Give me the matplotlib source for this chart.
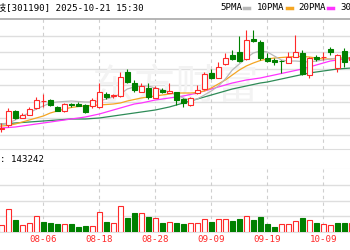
import matplotlib
matplotlib.use('Agg')
import matplotlib.pyplot as plt
import numpy as np

plt.rcParams['font.family'] = ['DejaVu Sans Mono', 'Noto Sans CJK SC']

# trading days (07-25 .. 10-15), only part of them is inside the crop
dates = ['07-25', '07-28', '07-29', '07-30', '07-31', '08-01', '08-04', '08-05',
         '08-06', '08-07', '08-08', '08-11', '08-12', '08-13', '08-14', '08-15',
         '08-18', '08-19', '08-20', '08-21', '08-22', '08-25', '08-26', '08-27',
         '08-28', '08-29', '09-01', '09-02', '09-03', '09-04', '09-05', '09-08',
         '09-09', '09-10', '09-11', '09-12', '09-15', '09-16', '09-17', '09-18',
         '09-19', '09-22', '09-23', '09-24', '09-25', '09-26', '09-29', '09-30',
         '10-09', '10-10', '10-13', '10-14', '10-15']

opens = [20.90, 20.80, 20.65, 21.00, 22.40, 21.73, 22.00, 22.67, 23.37, 23.47,
         22.83, 22.40, 23.07, 23.13, 23.00, 22.90, 22.83, 24.10, 23.87, 23.93,
         26.33, 25.23, 24.27, 24.73, 23.67, 24.47, 24.23, 24.27, 23.60, 23.00,
         24.23, 24.60, 26.17, 25.73, 27.10, 28.00, 28.27, 27.60, 29.60, 29.27,
         27.73, 27.50, 27.45, 27.17, 27.83, 28.17, 26.00, 27.85, 27.77, 28.57,
         26.67, 28.43, 27.50]
closes = [20.80, 20.60, 20.70, 22.40, 21.73, 22.00, 22.57, 23.50, 23.40, 23.00,
          22.43, 23.07, 22.97, 22.93, 22.27, 23.55, 24.27, 23.77, 23.97, 25.83,
          25.33, 24.50, 24.90, 23.83, 24.73, 24.27, 24.37, 23.50, 23.20, 23.67,
          24.50, 26.07, 25.67, 26.83, 27.67, 27.60, 27.40, 29.50, 29.43, 27.73,
          27.43, 27.33, 27.40, 27.83, 28.33, 26.10, 27.67, 27.60, 27.80, 28.33,
          28.00, 27.27, 27.80]
highs = [21.00, 20.90, 21.20, 22.73, 22.50, 22.23, 22.77, 23.83, 24.07, 23.60,
         22.93, 23.23, 23.23, 23.27, 23.13, 23.70, 25.17, 24.33, 24.07, 26.27,
         26.57, 25.50, 25.17, 25.17, 24.90, 24.73, 25.23, 24.33, 23.67, 23.83,
         25.00, 26.27, 26.57, 27.33, 28.17, 28.50, 29.93, 30.50, 30.50, 29.50,
         28.17, 27.70, 27.50, 28.33, 30.00, 28.50, 27.77, 28.03, 28.30, 28.77,
         28.10, 28.70, 28.00]
lows = [20.60, 20.50, 20.30, 20.83, 21.65, 21.73, 22.00, 22.60, 22.83, 22.90,
        22.40, 22.35, 22.83, 22.90, 22.20, 22.70, 22.67, 23.60, 23.67, 23.83,
        25.17, 24.33, 24.27, 23.60, 23.67, 24.17, 24.20, 23.00, 22.83, 22.93,
        24.07, 24.50, 25.60, 25.67, 27.00, 27.50, 27.30, 27.50, 29.27, 27.50,
        27.33, 27.00, 26.17, 27.17, 27.80, 26.00, 25.67, 27.40, 27.50, 28.03,
        26.27, 26.80, 27.30]
volumes = [30000, 28000, 28000, 91000, 48000, 28000, 37000, 65000, 41000, 35000,
           31000, 31000, 31000, 21000, 25000, 25000, 79000, 41000, 37000, 105000,
           55000, 77000, 75000, 61000, 55000, 37000, 41000, 35000, 31000, 37000,
           37000, 51000, 41000, 53000, 52000, 45000, 53000, 64000, 48000, 60000,
           31000, 21000, 31000, 31000, 44000, 55000, 48000, 35000, 31000, 27000,
           35000, 35000, 35000]

ma5 = [20.70, 20.90, 21.10, 21.20, 21.50, 21.90, 22.20, 22.60, 22.90, 23.20,
       23.30, 23.35, 23.40, 23.35, 23.30, 23.30, 23.40, 23.60, 23.80, 24.10,
       24.60, 24.80, 24.90, 24.90, 24.70, 24.50, 24.30, 24.00, 23.70, 23.50,
       23.60, 24.00, 24.40, 24.90, 25.60, 26.50, 27.10, 27.70, 28.20, 28.40,
       28.30, 27.90, 27.50, 27.40, 27.40, 27.35, 27.30, 27.40, 27.50, 27.60,
       27.70, 27.70, 27.70]
ma10 = [20.70, 20.80, 20.90, 20.95, 21.10, 21.30, 21.50, 21.70, 21.90, 22.20,
        22.40, 22.60, 22.75, 22.85, 22.90, 22.95, 23.00, 23.05, 23.10, 23.20,
        23.40, 23.55, 23.70, 23.80, 23.90, 24.00, 24.10, 24.20, 24.20, 24.20,
        24.25, 24.40, 24.70, 25.10, 25.50, 26.00, 26.50, 26.90, 27.20, 27.45,
        27.60, 27.70, 27.75, 27.80, 27.85, 27.85, 27.80, 27.70, 27.60, 27.60,
        27.65, 27.70, 27.70]
ma20 = [20.50, 20.60, 20.70, 20.75, 20.80, 20.90, 21.00, 21.10, 21.20, 21.30,
        21.40, 21.50, 21.60, 21.70, 21.80, 21.95, 22.10, 22.30, 22.50, 22.70,
        22.90, 23.10, 23.20, 23.35, 23.50, 23.60, 23.70, 23.80, 23.90, 24.05,
        24.20, 24.40, 24.60, 24.80, 25.00, 25.20, 25.35, 25.50, 25.60, 25.70,
        25.85, 26.00, 26.15, 26.30, 26.45, 26.60, 26.80, 27.00, 27.20, 27.40,
        27.50, 27.60, 27.65]
ma30 = [21.00, 21.05, 21.10, 21.15, 21.20, 21.25, 21.30, 21.35, 21.40, 21.45,
        21.50, 21.55, 21.60, 21.60, 21.60, 21.65, 21.70, 21.80, 21.90, 22.00,
        22.10, 22.20, 22.30, 22.40, 22.50, 22.65, 22.80, 23.00, 23.20, 23.40,
        23.60, 23.80, 24.00, 24.20, 24.40, 24.60, 24.75, 24.90, 25.05, 25.20,
        25.30, 25.45, 25.60, 25.75, 25.90, 26.05, 26.20, 26.30, 26.40, 26.50,
        26.60, 26.65, 26.70]

title = '技[301190] 2025-10-21 15:30'
vol_label = ': 143242'
label_every = 8

RED = '#ff2a2a'
GREEN = '#008000'
GRID = '#dedede'
FS = 6.6

W, H = 350, 250
fig = plt.figure(figsize=(W / 100, H / 100), dpi=100)

def px_rect(top, bottom):
    return [0, 1 - bottom / H, 1, (bottom - top) / H]

x = np.arange(len(dates))
o = np.array(opens); c = np.array(closes)
up = c >= o
prev = np.r_[c[0], c[:-1]]
vol_up = c >= prev
xlim = (8 - 43.3 / 7.0, 8 + (W - 43.3) / 7.0)
tick_pos = x[::label_every]

# main price panel
ax = fig.add_axes(px_rect(19, 149))
for lvl in np.arange(20.0, 31.0, 1.655):
    ax.axhline(lvl, color=GRID, lw=1, zorder=0)
for t in tick_pos:
    ax.axvline(t, color='#cfcfcf', lw=0.8, ls=(0, (3, 3)), zorder=0)

ax.text(0.5, 0.47, '东方财富', transform=ax.transAxes, ha='center', va='center',
        fontsize=30, color='#f3f3f3', family=['Noto Sans CJK SC'], zorder=0)

ax.plot(x, ma30, color='#2e8b57', lw=0.9, zorder=2)
ax.plot(x, ma20, color='#ff33ff', lw=0.9, zorder=2)
ax.plot(x, ma10, color='#f5a623', lw=0.9, zorder=2)
ax.plot(x, ma5, color='#b8b8b8', lw=0.9, zorder=2)

cols = np.where(up, RED, GREEN)
ax.vlines(x, lows, highs, colors=cols, lw=0.8, zorder=3)
body_h = np.maximum(np.abs(c - o), 0.02)
ax.bar(x, body_h, bottom=np.minimum(o, c), width=0.7,
       color=np.where(up, 'white', GREEN), edgecolor=cols, lw=0.8, zorder=4)

for s in ['left', 'right', 'bottom']:
    ax.spines[s].set_visible(False)
ax.spines['top'].set_color('#a8a8a8')
ax.spines['top'].set_linewidth(1.2)
ax.set_xticks([]); ax.set_yticks([])
ax.set_xlim(*xlim)
ax.set_ylim(18.6, 31.6)

# header strip of the volume panel
axh = fig.add_axes(px_rect(149, 169))
for s in ['left', 'right']:
    axh.spines[s].set_visible(False)
axh.spines['top'].set_color(GRID)
axh.spines['bottom'].set_color(GRID)
axh.set_xticks([]); axh.set_yticks([])
axh.set_xlim(*xlim)
axh.text(0.0, 0.5, vol_label, transform=axh.transAxes, ha='left', va='center',
         fontsize=FS, color='black')

# volume panel
axv = fig.add_axes(px_rect(169, 232))
for lvl in [63000, 126000, 189000]:
    axv.axhline(lvl, color=GRID, lw=1, zorder=0)
for t in tick_pos:
    axv.axvline(t, color='#cfcfcf', lw=0.8, ls=(0, (3, 3)), zorder=0)
axv.bar(x, volumes, width=0.7, color=np.where(vol_up, 'white', GREEN),
        edgecolor=np.where(vol_up, RED, GREEN), lw=0.8, zorder=3)
for s in ['left', 'right', 'top']:
    axv.spines[s].set_visible(False)
axv.spines['bottom'].set_color(GRID)
axv.set_xticks([]); axv.set_yticks([])
axv.set_xlim(*xlim)
axv.set_ylim(0, 252000)
# date labels as texts so the one left of the view is still partly drawn
for i in tick_pos:
    axv.text(i, -0.125, dates[i], transform=axv.get_xaxis_transform(),
             ha='center', va='center', fontsize=FS, color=RED, clip_on=False)

# title and legend
fig.text(-3 / W, 1 - 8 / H, title, ha='left', va='center', fontsize=FS)
legend = [('5PMA', '#b8b8b8', 220), ('10PMA', '#f5a623', 257),
          ('20PMA', '#ff33ff', 298), ('30PMA', '#2e8b57', 340)]
fig.canvas.draw()
renderer = fig.canvas.get_renderer()
for name, col, px in legend:
    t = fig.text(px / W, 1 - 8 / H, name, ha='left', va='center', fontsize=FS)
    x1 = t.get_window_extent(renderer).x1
    fig.add_artist(plt.Line2D([(x1 + 2) / W, (x1 + 7) / W],
                              [1 - 8 / H, 1 - 8 / H], color=col, lw=2.5))

fig.savefig('out.png', dpi=100)
